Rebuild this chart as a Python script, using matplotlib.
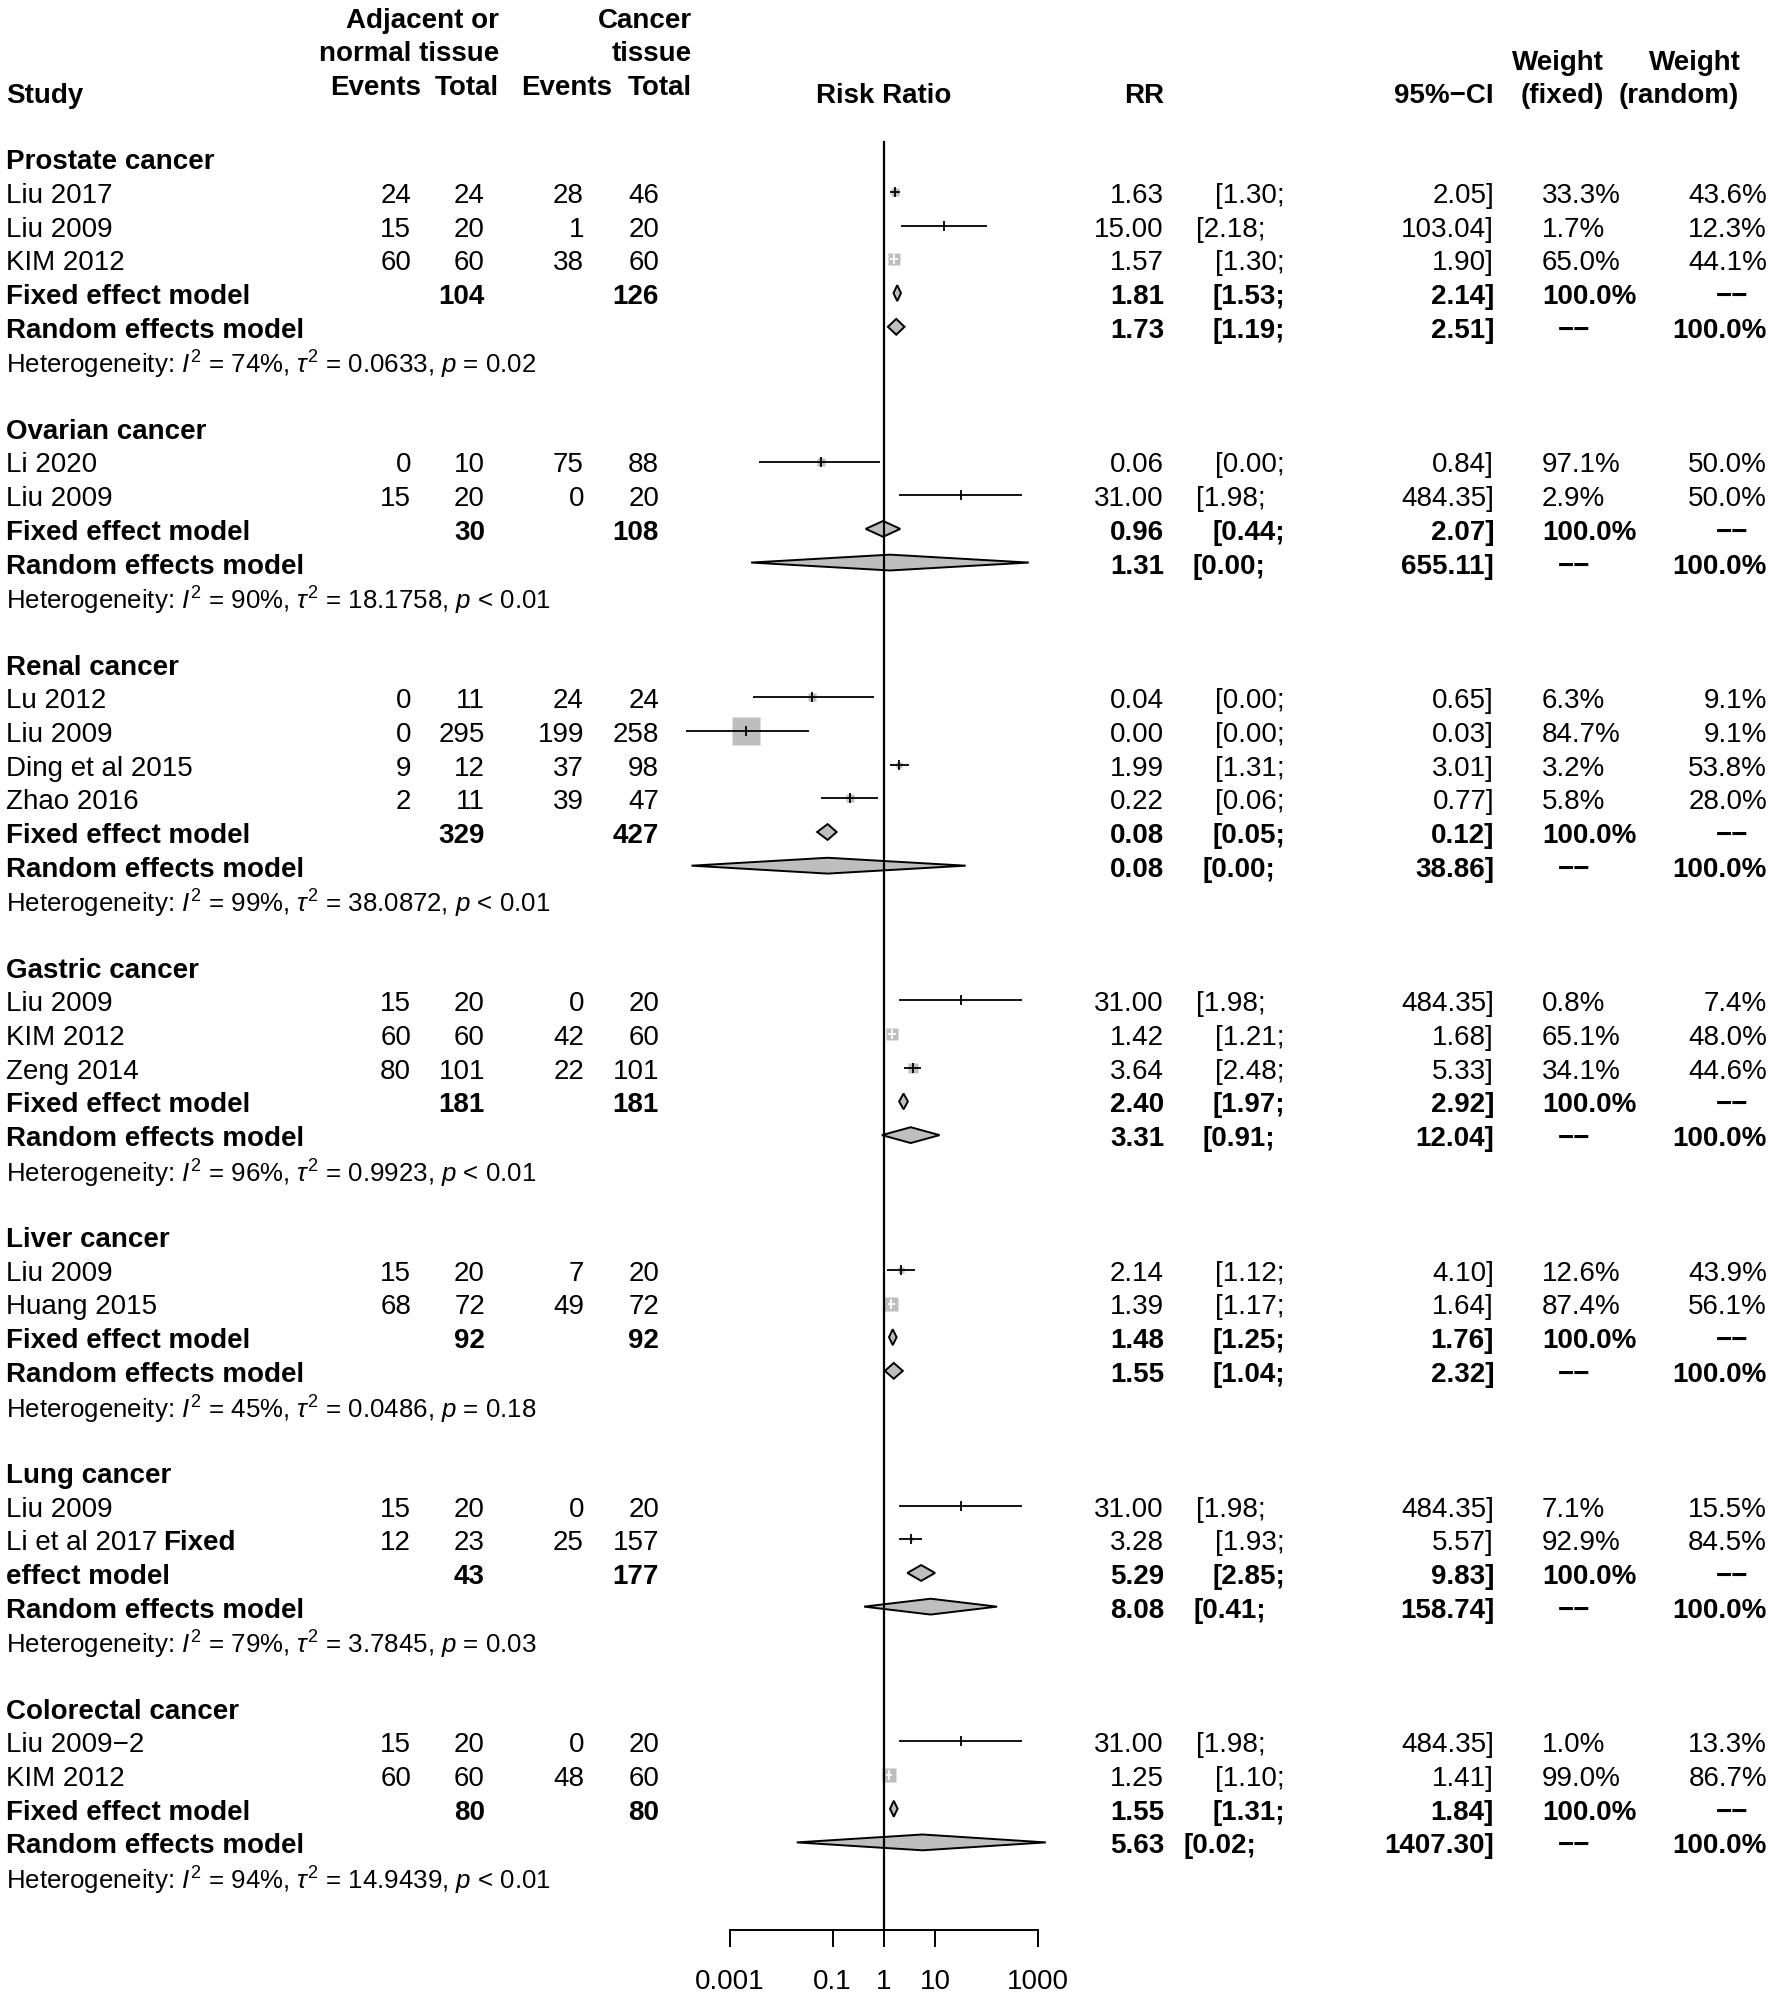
import numpy as np
import matplotlib
matplotlib.use('Agg')
import matplotlib.pyplot as plt
from matplotlib.patches import Polygon
from matplotlib.ticker import NullLocator
from matplotlib.transforms import blended_transform_factory

plt.rcParams['font.family'] = ['Liberation Sans', 'DejaVu Sans']
plt.rcParams['mathtext.fontset'] = 'custom'
plt.rcParams['mathtext.rm'] = 'Liberation Sans'
plt.rcParams['mathtext.it'] = 'Liberation Sans:italic'

# ---- data -------------------------------------------------------------
groups = ['Prostate cancer', 'Ovarian cancer', 'Renal cancer', 'Gastric cancer',
          'Liver cancer', 'Lung cancer', 'Colorectal cancer']

study_group = [0, 0, 0, 1, 1, 2, 2, 2, 2, 3, 3, 3, 4, 4, 5, 5, 6, 6]
study_names = ['Liu 2017', 'Liu 2009', 'KIM 2012',
               'Li 2020', 'Liu 2009',
               'Lu 2012', 'Liu 2009', 'Ding et al 2015', 'Zhao 2016',
               'Liu 2009', 'KIM 2012', 'Zeng 2014',
               'Liu 2009', 'Huang 2015',
               'Liu 2009', 'Li et al 2017',
               'Liu 2009\u22122', 'KIM 2012']
study_bold_suffix = ['', '', '', '', '', '', '', '', '', '', '', '', '', '',
                     '', 'Fixed', '', '']
adj_events = [24, 15, 60, 0, 15, 0, 0, 9, 2, 15, 60, 80, 15, 68, 15, 12, 15, 60]
adj_total = [24, 20, 60, 10, 20, 11, 295, 12, 11, 20, 60, 101, 20, 72, 20, 23, 20, 60]
can_events = [28, 1, 38, 75, 0, 24, 199, 37, 39, 0, 42, 22, 7, 49, 0, 25, 0, 48]
can_total = [46, 20, 60, 88, 20, 24, 258, 98, 47, 20, 60, 101, 20, 72, 20, 157, 20, 60]
study_rr = [1.63, 15.00, 1.57, 0.06, 31.00, 0.04, 0.0021, 1.99, 0.22,
            31.00, 1.42, 3.64, 2.14, 1.39, 31.00, 3.28, 31.00, 1.25]
study_lo = [1.30, 2.18, 1.30, 0.0037, 1.98, 0.0028, 0.00014, 1.31, 0.06,
            1.98, 1.21, 2.48, 1.12, 1.17, 1.98, 1.93, 1.98, 1.10]
study_hi = [2.05, 103.04, 1.90, 0.84, 484.35, 0.65, 0.034, 3.01, 0.77,
            484.35, 1.68, 5.33, 4.10, 1.64, 484.35, 5.57, 484.35, 1.41]
w_fixed = [33.3, 1.7, 65.0, 97.1, 2.9, 6.3, 84.7, 3.2, 5.8,
           0.8, 65.1, 34.1, 12.6, 87.4, 7.1, 92.9, 1.0, 99.0]
w_random = [43.6, 12.3, 44.1, 50.0, 50.0, 9.1, 9.1, 53.8, 28.0,
            7.4, 48.0, 44.6, 43.9, 56.1, 15.5, 84.5, 13.3, 86.7]

fixed_labels = ['Fixed effect model'] * 5 + ['effect model', 'Fixed effect model']
adj_sum = [104, 30, 329, 181, 92, 43, 80]
can_sum = [126, 108, 427, 181, 92, 177, 80]
fixed_rr = [1.81, 0.96, 0.08, 2.40, 1.48, 5.29, 1.55]
fixed_lo = [1.53, 0.44, 0.05, 1.97, 1.25, 2.85, 1.31]
fixed_hi = [2.14, 2.07, 0.12, 2.92, 1.76, 9.83, 1.84]
random_rr = [1.73, 1.31, 0.08, 3.31, 1.55, 8.08, 5.63]
random_lo = [1.19, 0.0026, 0.00018, 0.91, 1.04, 0.41, 0.02]
random_hi = [2.51, 655.11, 38.86, 12.04, 2.32, 158.74, 1407.30]

het_i2 = [74, 90, 99, 96, 45, 79, 94]
het_tau2 = ['0.0633', '18.1758', '38.0872', '0.9923', '0.0486', '3.7845', '14.9439']
het_p = ['= 0.02', '< 0.01', '< 0.01', '< 0.01', '= 0.18', '= 0.03', '< 0.01']

tick_vals = [0.001, 0.1, 1, 10, 1000]
tick_labels = ['0.001', '0.1', '1', '10', '1000']

# ---- layout -----------------------------------------------------------
W, H = 1770, 1999
FS = 20.0
FS_HET = 18.6
ROW0 = 159.4      # pixel centre of the first subgroup heading
ROW_H = 33.68     # pixel height of one row
DEC = 51.4        # pixels per decade on the RR axis
X_ONE = 884       # pixel position of RR = 1
GREY = '#BEBEBE'
DH = 0.235        # diamond half height in rows
DASH = '\u2212\u2212'

fig = plt.figure(figsize=(W / 100, H / 100), dpi=100)
ax_l, ax_r = 660, 1110
ax = fig.add_axes([ax_l / W, 0, (ax_r - ax_l) / W, 1])
ax.set_xscale('log')
ax.set_xlim(10 ** ((ax_l - X_ONE) / DEC), 10 ** ((ax_r - X_ONE) / DEC))
ax.set_ylim((H - ROW0) / ROW_H, -ROW0 / ROW_H)
ax.patch.set_alpha(0)

tr = blended_transform_factory(fig.transFigure, ax.transData)


def put(xpx, row, s, ha='right', bold=False, size=FS):
    # row = visual centre of the digits/capitals
    y = row + 0.358 * (size / 0.72) / ROW_H
    return ax.text(xpx / W, y, s, transform=tr, ha=ha, va='baseline',
                   fontsize=size, fontweight='bold' if bold else 'normal')


def ci_texts(row, lo, hi, bold):
    hi_s = f'{hi:.2f}'
    npad = 7 - len(hi_s)
    put(1256 + npad * 9.6, row, f'[{lo:.2f};', bold=bold)
    put(1494, row, hi_s + ']', bold=bold)


def mh_weight(a, n1, c, n2):
    if a == 0 or c == 0:
        a, c, n1, n2 = a + 0.5, c + 0.5, n1 + 1, n2 + 1
    return c * n1 / (n1 + n2)


def diamond(row, est, lo, hi):
    ax.add_patch(Polygon([[lo, row], [est, row - DH], [hi, row], [est, row + DH]],
                         closed=True, fc=GREY, ec='black', lw=1.4, zorder=4))


# header
put(6, -1.97, 'Study', ha='left', bold=True)
put(499, -4.2, 'Adjacent or', bold=True)
put(499, -3.22, 'normal tissue', bold=True)
put(421, -2.2, 'Events', bold=True)
put(499, -2.2, 'Total', bold=True)
put(692, -4.2, 'Cancer', bold=True)
put(692, -3.22, 'tissue', bold=True)
put(612, -2.2, 'Events', bold=True)
put(692, -2.2, 'Total', bold=True)
ax.text(1, -1.97 + 0.358 * (FS / 0.72) / ROW_H, 'Risk Ratio', ha='center',
        va='baseline', fontsize=FS, fontweight='bold')
put(1164, -1.97, 'RR', bold=True)
put(1494, -1.97, '95%\u2212CI', bold=True)
put(1604, -2.95, 'Weight', bold=True)
put(1604, -1.97, '(fixed)', bold=True)
put(1741, -2.95, 'Weight', bold=True)
put(1739, -1.97, '(random)', bold=True)

renderer = fig.canvas.get_renderer()

r = 0
for g, gname in enumerate(groups):
    put(6, r, gname, ha='left', bold=True)
    r += 1
    for i in [k for k, sg in enumerate(study_group) if sg == g]:
        t = put(6, r, study_names[i], ha='left')
        if study_bold_suffix[i]:
            bb = t.get_window_extent(renderer=renderer)
            put(bb.x1 + 6, r, study_bold_suffix[i], ha='left', bold=True)
        put(411, r, str(adj_events[i]))
        put(485, r, str(adj_total[i]))
        put(584, r, str(can_events[i]))
        put(659, r, str(can_total[i]))
        put(1164, r, f'{study_rr[i]:.2f}')
        ci_texts(r, study_lo[i], study_hi[i], False)
        put(1542, r, f'{w_fixed[i]:.1f}%', ha='left')
        put(1767, r, f'{w_random[i]:.1f}%')

        side = 2.72 * np.sqrt(mh_weight(adj_events[i], adj_total[i],
                                        can_events[i], can_total[i]))
        ci_px = (np.log10(study_hi[i]) - np.log10(study_lo[i])) * DEC
        col = 'white' if ci_px < side else 'black'
        ax.plot(study_rr[i], r, marker='s', ms=side * 0.72, color=GREY,
                mec='none', zorder=3)
        ax.plot([study_lo[i], study_hi[i]], [r, r], color=col, lw=1.3,
                zorder=5, solid_capstyle='butt')
        ax.plot(study_rr[i], r, marker='|', ms=7.5, mew=1.3, color=col, zorder=5)
        r += 1

    # fixed effect model
    put(6, r, fixed_labels[g], ha='left', bold=True)
    put(485, r, str(adj_sum[g]), bold=True)
    put(659, r, str(can_sum[g]), bold=True)
    put(1164, r, f'{fixed_rr[g]:.2f}', bold=True)
    ci_texts(r, fixed_lo[g], fixed_hi[g], True)
    put(1542, r, '100.0%', ha='left', bold=True)
    put(1732, r, DASH, ha='center', bold=True)
    diamond(r, fixed_rr[g], fixed_lo[g], fixed_hi[g])
    r += 1

    # random effects model
    put(6, r, 'Random effects model', ha='left', bold=True)
    put(1164, r, f'{random_rr[g]:.2f}', bold=True)
    ci_texts(r, random_lo[g], random_hi[g], True)
    put(1574, r, DASH, ha='center', bold=True)
    put(1767, r, '100.0%', bold=True)
    diamond(r, random_rr[g], random_lo[g], random_hi[g])
    r += 1

    het = (f'Heterogeneity: $I^2$ = {het_i2[g]}%, $\\tau^2$ = {het_tau2[g]}, '
           f'$p$ {het_p[g]}')
    put(6, r + 0.1, het, ha='left', size=FS_HET)
    r += 2

axis_row = 52.6
ax.plot([1, 1], [-0.49, axis_row], color='black', lw=1.6, zorder=6)

for side in ['top', 'left', 'right']:
    ax.spines[side].set_visible(False)
ax.spines['bottom'].set_position(('data', axis_row))
ax.spines['bottom'].set_bounds(tick_vals[0], tick_vals[-1])
ax.spines['bottom'].set_linewidth(1.4)
ax.set_xticks(tick_vals)
ax.set_xticklabels(tick_labels)
ax.xaxis.set_minor_locator(NullLocator())
ax.tick_params(axis='x', direction='out', length=12.2, width=1.4,
               labelsize=FS, pad=15)
ax.set_yticks([])

fig.savefig('out.png', dpi=100)
